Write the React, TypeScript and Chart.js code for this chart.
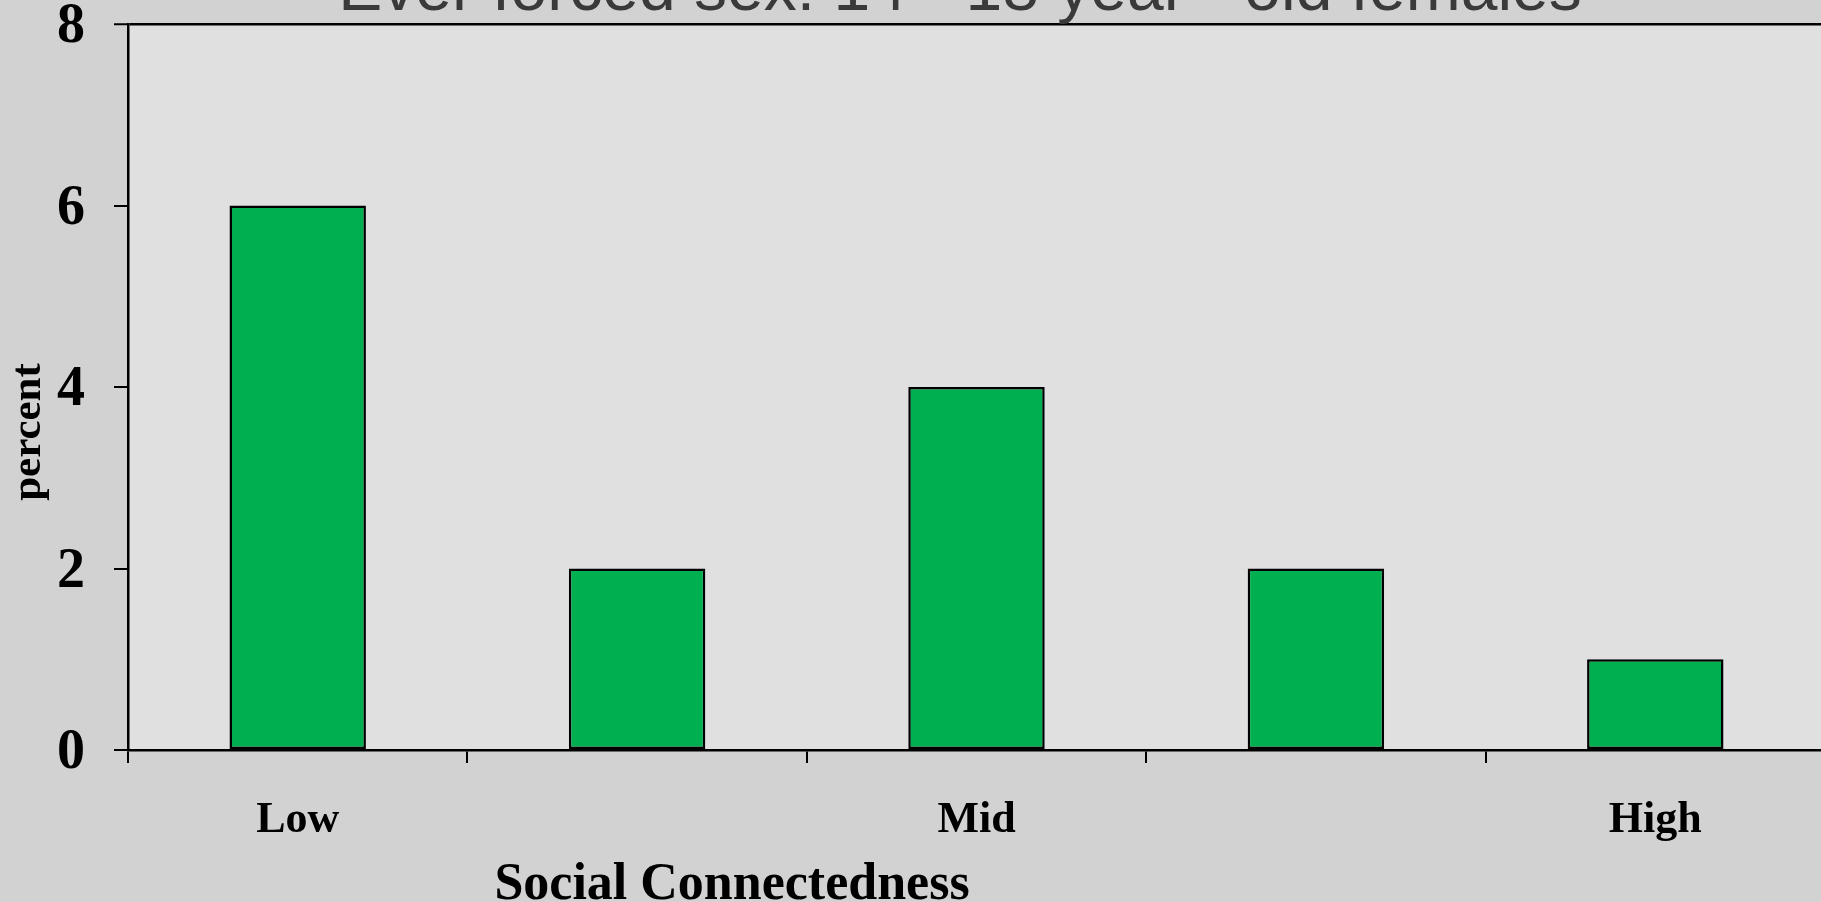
import React, { useEffect, useRef } from "react";
import { Chart, registerables } from "chart.js";

Chart.register(...registerables);

const categories = ["Low", "", "Mid", "", "High"];
const percentValues = [6, 2, 4, 2, 1];
const yTicks = [0, 2, 4, 6, 8];
const chartTitle = "Ever forced sex: 14 - 18 year - old females";
const xAxisTitle = "Social Connectedness";
const yAxisTitle = "percent";

const SERIF = '"Liberation Serif", "Times New Roman", serif';
const SANS = '"Liberation Sans", Arial, sans-serif';

export default function App() {
  const ref = useRef<HTMLCanvasElement>(null);

  useEffect(() => {
    const canvas = ref.current;
    if (!canvas) return;

    const plotBg = {
      id: "plotBg",
      beforeDraw(chart: any) {
        const { ctx, chartArea: a } = chart;
        ctx.save();
        ctx.fillStyle = "#e0e0e0";
        ctx.fillRect(a.left, a.top, a.right - a.left, a.bottom - a.top);
        ctx.restore();
      },
    };

    const texts = {
      id: "texts",
      afterDraw(chart: any) {
        const { ctx } = chart;
        ctx.save();
        // chart title (partially cut off at the top, as in the reference)
        ctx.fillStyle = "#3a3a3a";
        ctx.font = `66px ${SANS}`;
        ctx.textAlign = "center";
        ctx.textBaseline = "alphabetic";
        ctx.fillText(chartTitle, 960, 10);
        // x axis title
        ctx.fillStyle = "#000";
        ctx.font = `bold 52px ${SERIF}`;
        ctx.fillText(xAxisTitle, 732, 899);
        // y axis title
        ctx.translate(40, 432);
        ctx.rotate(-Math.PI / 2);
        ctx.font = `bold 43px ${SERIF}`;
        ctx.fillText(yAxisTitle, 0, 0);
        ctx.restore();
      },
    };

    const chart = new Chart(canvas, {
      type: "bar",
      data: {
        labels: categories,
        datasets: [
          {
            data: percentValues,
            backgroundColor: "#00b050",
            borderColor: "#000",
            borderWidth: 2.5,
            borderSkipped: false,
            barPercentage: 0.402,
            categoryPercentage: 1,
          },
        ],
      },
      options: {
        responsive: false,
        animation: false,
        devicePixelRatio: 1,
        layout: { padding: { top: 24, left: 0, right: 0, bottom: 0 } },
        plugins: {
          legend: { display: false },
          title: { display: false },
          tooltip: { enabled: false },
        },
        scales: {
          x: {
            grid: {
              display: true,
              offset: true,
              drawOnChartArea: false,
              drawTicks: true,
              tickLength: 13,
              color: "#000",
              lineWidth: 2,
            },
            border: { display: true, color: "#000", width: 2.5 },
            ticks: {
              color: "#000",
              font: { family: SERIF, size: 44, weight: "bold", lineHeight: 1 },
              padding: 36,
              maxRotation: 0,
              autoSkip: false,
            },
            afterFit(scale: any) {
              scale.height = 152;
              scale.paddingLeft = 0;
              scale.paddingRight = 0;
            },
          },
          y: {
            min: 0,
            max: 8,
            afterBuildTicks(scale: any) {
              scale.ticks = yTicks.map((v) => ({ value: v }));
            },
            grid: {
              display: true,
              drawOnChartArea: true,
              drawTicks: true,
              tickLength: 14,
              color: (ctx: any) => (ctx.tick && ctx.tick.value === 8 ? "#000" : "rgba(0,0,0,0)"),
              lineWidth: (ctx: any) => (ctx.tick && ctx.tick.value === 8 ? 2.5 : 2),
              tickColor: "#000",
              tickWidth: 2,
            },
            border: { display: true, color: "#000", width: 2.5 },
            ticks: {
              color: "#000",
              font: { family: SERIF, size: 56, weight: "bold", lineHeight: 1 },
              padding: 29,
              labelOffset: 4,
            },
            afterFit(scale: any) {
              scale.width = 128;
              scale.paddingTop = 0;
              scale.paddingBottom = 0;
            },
          },
        },
      },
      plugins: [plotBg, texts],
    });

    return () => chart.destroy();
  }, []);

  return (
    <div
      style={{
        position: "absolute",
        left: 0,
        top: 0,
        width: 1821,
        height: 902,
        background: "#d2d2d2",
        overflow: "hidden",
      }}
    >
      <canvas ref={ref} width={1825} height={902} style={{ display: "block" }} />
    </div>
  );
}
